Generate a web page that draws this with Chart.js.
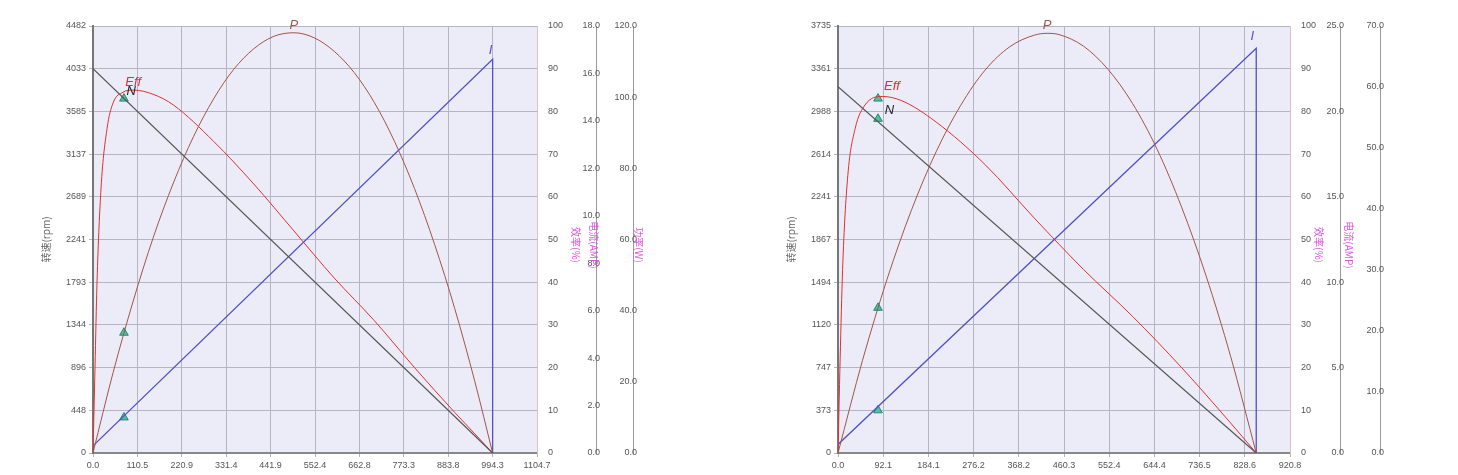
<!DOCTYPE html>
<html>
<head>
<meta charset="utf-8">
<script src="https://cdn.jsdelivr.net/npm/chart.js@4"></script>
<style>
  body { margin: 0; background: #fff; width: 1458px; height: 475px; position: relative; overflow: hidden; }
  .box { position: absolute; top: 0; height: 475px; }
  #b1 { left: 40px; width: 603px; }
  #b2 { left: 785px; width: 605px; }
</style>
</head>
<body>
<div class="box" id="b1"><canvas id="c1"></canvas></div>
<div class="box" id="b2"><canvas id="c2"></canvas></div>
<script>
// ---- chart 1 data (torque on x) ----
const x1Ticks = ['0.0', '110.5', '220.9', '331.4', '441.9', '552.4', '662.8', '773.3', '883.8', '994.3', '1104.7'];
const y1Ticks = ['0', '448', '896', '1344', '1793', '2241', '2689', '3137', '3585', '4033', '4482'];
const cur1Ticks = ['0.0', '2.0', '4.0', '6.0', '8.0', '10.0', '12.0', '14.0', '16.0', '18.0'];
const pow1Ticks = ['0.0', '20.0', '40.0', '60.0', '80.0', '100.0', '120.0'];
const speed1 = [[0, 4033], [994.3, 0]];
const eff1 = [[0, 0], [5, 20], [10, 40], [20, 62], [35, 76], [50, 82], [75, 84.5], [100, 85], [150, 84], [200, 81.5], [300, 73], [400, 63], [500, 52], [600, 41], [700, 31], [800, 20], [900, 9.5], [950, 4.5], [994.3, 0]];
const power1 = [[0, 0], [50, 22.6], [100, 42.7], [150, 60.6], [200, 75.9], [250, 88.9], [300, 99.5], [350, 107.8], [400, 113.6], [450, 117.1], [500, 118.1], [550, 116.7], [600, 112.9], [650, 106.9], [700, 98.5], [750, 87.6], [800, 74.3], [850, 58.6], [900, 40.6], [950, 20.1], [994.3, 0]];
const current1 = [[0, 0.3], [994.3, 16.6], [994.3, 0]];
const mark1 = { x: 77, n: 3720, p: 33.8, i: 1.5 };

// ---- chart 2 data ----
const x2Ticks = ['0.0', '92.1', '184.1', '276.2', '368.2', '460.3', '552.4', '644.4', '736.5', '828.6', '920.8'];
const y2Ticks = ['0', '373', '747', '1120', '1494', '1867', '2241', '2614', '2988', '3361', '3735'];
const cur2Ticks = ['0.0', '5.0', '10.0', '15.0', '20.0', '25.0'];
const pow2Ticks = ['0.0', '10.0', '20.0', '30.0', '40.0', '50.0', '60.0', '70.0'];
const speed2 = [[0, 3205], [852, 0]];
const eff2 = [[0, 0], [5, 25], [10, 45], [20, 65], [35, 76], [55, 81.5], [90, 83.5], [130, 82.5], [200, 77.5], [300, 67.5], [400, 55], [500, 43], [600, 32], [700, 20], [800, 7], [852, 0]];
const power2 = [[0, 0], [50, 15.2], [100, 28.5], [150, 39.9], [200, 49.4], [250, 57.0], [300, 62.8], [350, 66.6], [400, 68.5], [426, 68.8], [450, 68.6], [500, 66.7], [550, 62.9], [600, 57.3], [650, 49.8], [700, 40.3], [750, 29.0], [800, 15.8], [852, 0]];
const current2 = [[0, 0.5], [852, 23.7], [852, 0]];
const mark2 = { x: 81.5, n: 2923, e: 83, p: 23.8, i: 2.5 };

const pts = a => a.map(([x, y]) => ({ x, y }));
const tickFont = { family: 'Liberation Sans', size: 9 };

function fixedTicks(labels, max) {
  return scale => {
    scale.ticks = labels.map((l, i) => ({ value: max * i / (labels.length - 1) }));
  };
}

const plotBg = {
  id: 'plotBg',
  beforeDraw(chart) {
    const { ctx, chartArea: a } = chart;
    ctx.save();
    ctx.fillStyle = '#ececf8';
    ctx.fillRect(a.left, a.top, a.width, a.height);
    ctx.restore();
  }
};

// curve names and pink axis titles
const tags = {
  id: 'tags',
  afterDatasetsDraw(chart, args, o) {
    const { ctx, scales } = chart;
    ctx.save();
    ctx.font = 'italic 13px Liberation Sans';
    ctx.textAlign = 'center';
    o.items.forEach(t => {
      ctx.fillStyle = t.color;
      ctx.fillText(t.text, scales.x.getPixelForValue(t.x) + (t.dx || 0), scales[t.axis].getPixelForValue(t.y) + (t.dy || 0));
    });
    ctx.font = '10px "Noto Sans CJK SC"';
    ctx.fillStyle = '#dd55dd';
    o.titles.forEach(t => {
      ctx.save();
      ctx.translate(t.px, 245);
      ctx.rotate(Math.PI / 2);
      ctx.fillText(t.text, 0, 0);
      ctx.restore();
    });
    ctx.restore();
  }
};

function makeChart(id, d) {
  const xMax = d.xMax;
  const line = (data, axis, color, width, smooth) => ({
    type: 'line', data: pts(data), yAxisID: axis, borderColor: color, borderWidth: width || 1, pointRadius: 0,
    cubicInterpolationMode: smooth ? 'monotone' : 'default', tension: 0
  });
  const tri = (x, y, axis) => ({ type: 'scatter', data: [{ x, y }], yAxisID: axis, pointStyle: 'triangle', pointRadius: 5, backgroundColor: '#4cc0a0', borderColor: '#2a8a70', borderWidth: 1 });
  const sets = [
    line(d.speed, 'y', '#555555', 1.2, false),
    line(d.eff, 'pct', '#e03030', 1, true),
    line(d.power, 'pow', '#a05548', 1, true),
    line(d.current, 'cur', '#5050c8', 1.3, false),
    tri(d.mark.x, d.mark.n, 'y'),
    tri(d.mark.x, d.mark.p, 'pow'),
    tri(d.mark.x, d.mark.i, 'cur')
  ];
  if (d.mark.e) sets.push(tri(d.mark.x, d.mark.e, 'pct'));

  new Chart(document.getElementById(id), {
    data: { datasets: sets },
    plugins: [plotBg, tags],
    options: {
      responsive: true,
      maintainAspectRatio: false,
      animation: false,
      layout: { padding: { top: 26, bottom: 0, left: 0, right: 0 } },
      plugins: {
        legend: { display: false },
        tooltip: { enabled: false },
        tags: d.tags
      },
      scales: {
        x: {
          type: 'linear', min: 0, max: xMax,
          afterBuildTicks: fixedTicks(d.xTicks, xMax),
          afterFit: s => { s.height = 22; },
          ticks: { font: tickFont, color: '#555', maxRotation: 0, callback: (v, i) => d.xTicks[i] },
          grid: { color: '#b4b4c4', tickLength: 4 },
          border: { color: '#888', width: 2 }
        },
        y: {
          min: 0, max: d.yMax, position: 'left',
          afterBuildTicks: fixedTicks(d.yTicks, d.yMax),
          afterFit: s => { s.width = 53; },
          ticks: { font: tickFont, color: '#555', callback: (v, i) => d.yTicks[i] },
          grid: { color: '#b4b4c4', tickLength: 4 },
          border: { color: '#777', width: 2 },
          title: { display: true, text: '转速(rpm)', font: { family: 'Noto Sans CJK SC', size: 10 }, color: '#666', padding: 0 }
        },
        pct: {
          min: 0, max: 100, position: 'right',
          afterFit: s => { s.width = d.pctW; },
          ticks: { stepSize: 10, font: tickFont, color: '#555' },
          grid: { display: false },
          border: { color: '#e0c0c0' }
        },
        cur: {
          min: 0, max: d.curMax, position: 'right',
          afterBuildTicks: fixedTicks(d.curTicks, d.curMax),
          afterFit: s => { s.width = d.curW; },
          ticks: { mirror: true, padding: 4, font: tickFont, color: '#555', callback: (v, i) => d.curTicks[i] },
          grid: { display: false },
          border: { color: '#999' }
        },
        pow: {
          min: 0, max: d.powMax, position: 'right',
          afterBuildTicks: fixedTicks(d.powTicks, d.powMax),
          afterFit: s => { s.width = d.powW; },
          ticks: { mirror: true, padding: 4, font: tickFont, color: '#555', callback: (v, i) => d.powTicks[i] },
          grid: { display: false },
          border: { color: '#999' }
        }
      }
    }
  });
}

makeChart('c1', {
  xMax: 1104.7, yMax: 4482, curMax: 18, powMax: 120,
  xTicks: x1Ticks, yTicks: y1Ticks, curTicks: cur1Ticks, powTicks: pow1Ticks,
  speed: speed1, eff: eff1, power: power1, current: current1, mark: mark1,
  pctW: 59, curW: 37, powW: 10,
  tags: {
    items: [
      { text: 'P', x: 500, y: 118.1, axis: 'pow', color: '#a05548', dy: -4 },
      { text: 'I', x: 994.3, y: 16.6, axis: 'cur', color: '#5050c8', dy: -5, dx: -2 },
      { text: 'Eff', x: 100, y: 85, axis: 'pct', color: '#e03030', dy: -4 },
      { text: 'N', x: 95, y: 3720, axis: 'y', color: '#222', dy: -4 }
    ],
    titles: [{ text: '效率(%)', px: 532 }, { text: '电流(AMP)', px: 550 }, { text: '功率(W)', px: 595 }]
  }
});

makeChart('c2', {
  xMax: 920.8, yMax: 3735, curMax: 25, powMax: 70,
  xTicks: x2Ticks, yTicks: y2Ticks, curTicks: cur2Ticks, powTicks: pow2Ticks,
  speed: speed2, eff: eff2, power: power2, current: current2, mark: mark2,
  pctW: 50, curW: 40, powW: 10,
  tags: {
    items: [
      { text: 'P', x: 426, y: 68.8, axis: 'pow', color: '#a05548', dy: -4 },
      { text: 'I', x: 852, y: 23.7, axis: 'cur', color: '#5050c8', dy: -8, dx: -4 },
      { text: 'Eff', x: 110, y: 83.5, axis: 'pct', color: '#e03030', dy: -6 },
      { text: 'N', x: 105, y: 2988, axis: 'y', color: '#222', dy: 3 }
    ],
    titles: [{ text: '效率(%)', px: 530 }, { text: '电流(AMP)', px: 560 }, { text: '功率(W)', px: 608 }]
  }
});
</script>
</body>
</html>
